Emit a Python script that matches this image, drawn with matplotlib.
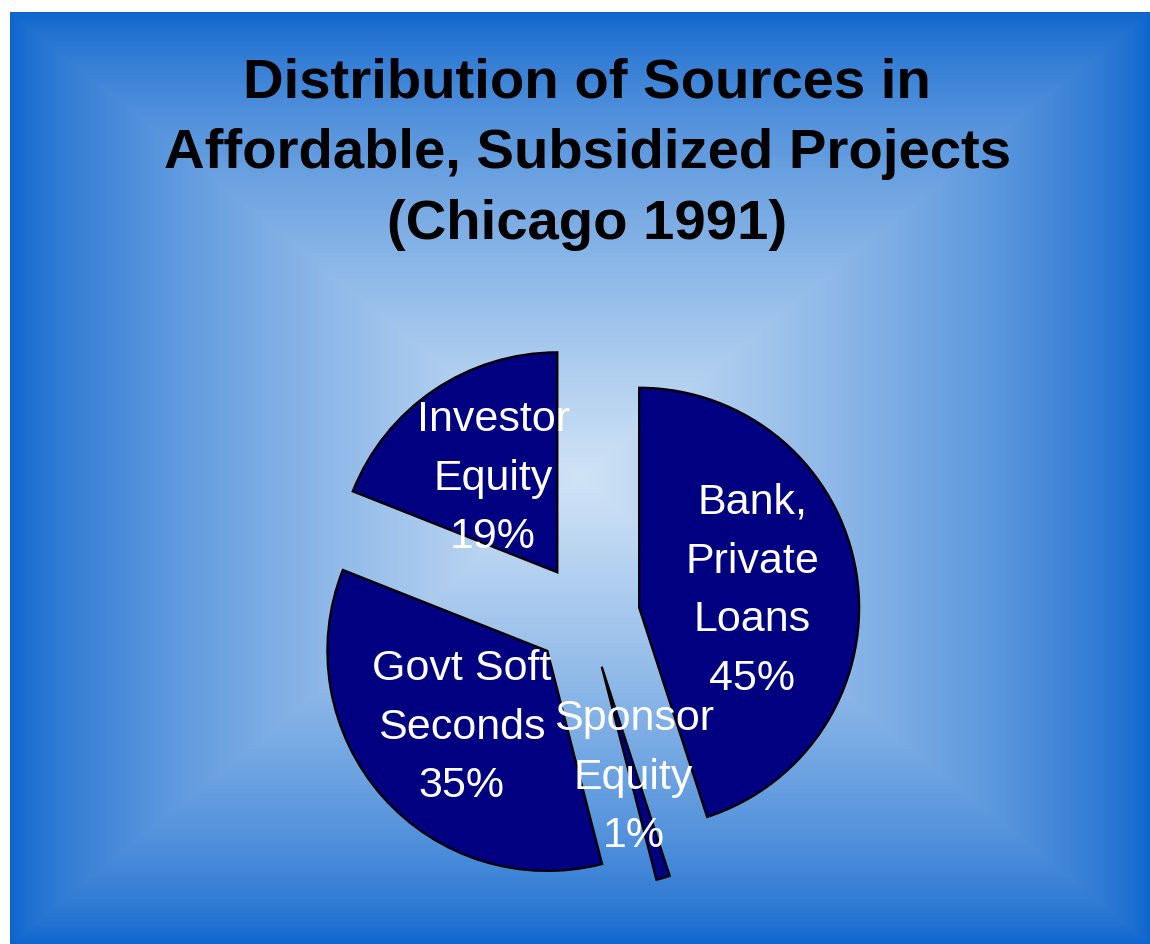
import numpy as np
import matplotlib
matplotlib.use("Agg")
import matplotlib.pyplot as plt

# funding sources, in the order they run clockwise from 12 o'clock
sources = ["Bank,\nPrivate\nLoans", "Sponsor\nEquity", "Govt Soft\nSeconds", "Investor\nEquity"]
shares = [45, 1, 35, 19]

title = "Distribution of Sources in\nAffordable, Subsidized Projects\n(Chicago 1991)"

W, H = 1150, 945
fig = plt.figure(figsize=(W / 100, H / 100), dpi=100)
fig.patch.set_facecolor("white")

# rectangular "from centre" gradient behind everything
bg = fig.add_axes([10 / W, 0, 1140 / W, 932 / H])
gx = np.linspace(-1, 1, 1140)
gy = np.linspace(-1, 1, 932)
u, v = np.meshgrid(gx, gy)
t = np.maximum(np.abs(u), np.abs(v))
edge = np.array([12, 100, 205]) / 255
mid = np.array([208, 227, 246]) / 255
k = (1 - t) ** 0.7
img = edge + (mid - edge) * k[..., None]
bg.imshow(img, aspect="auto", interpolation="bilinear")
bg.set_axis_off()

ax = fig.add_axes([0, 0, 1, 1])
ax.patch.set_alpha(0)

labels = [f"{s}\n{p}%" for s, p in zip(sources, shares)]
ax.pie(
    shares,
    labels=labels,
    explode=[0.24] * len(shares),
    startangle=90,
    counterclock=False,
    radius=1,
    colors=["#000080"] * len(shares),
    labeldistance=0.52,
    wedgeprops=dict(edgecolor="black", linewidth=1.6),
    textprops=dict(color="white", fontsize=31, ha="center", va="center",
                   linespacing=1.6, multialignment="center",
                   family=["Liberation Sans", "DejaVu Sans"]),
)

# 1 data unit = 220 px, pie centred at (587, 617) px from top-left
scale = 220
cx, cy = 587, H - 617
ax.set_xlim(-cx / scale, (W - cx) / scale)
ax.set_ylim(-cy / scale, (H - cy) / scale)
ax.set_axis_off()

fig.text(587 / W, 1 - 57 / H, title, ha="center", va="top",
         fontsize=40.5, fontweight="bold", color="black",
         linespacing=1.48, family=["Liberation Sans", "DejaVu Sans"])

fig.savefig("out.png", dpi=100)
